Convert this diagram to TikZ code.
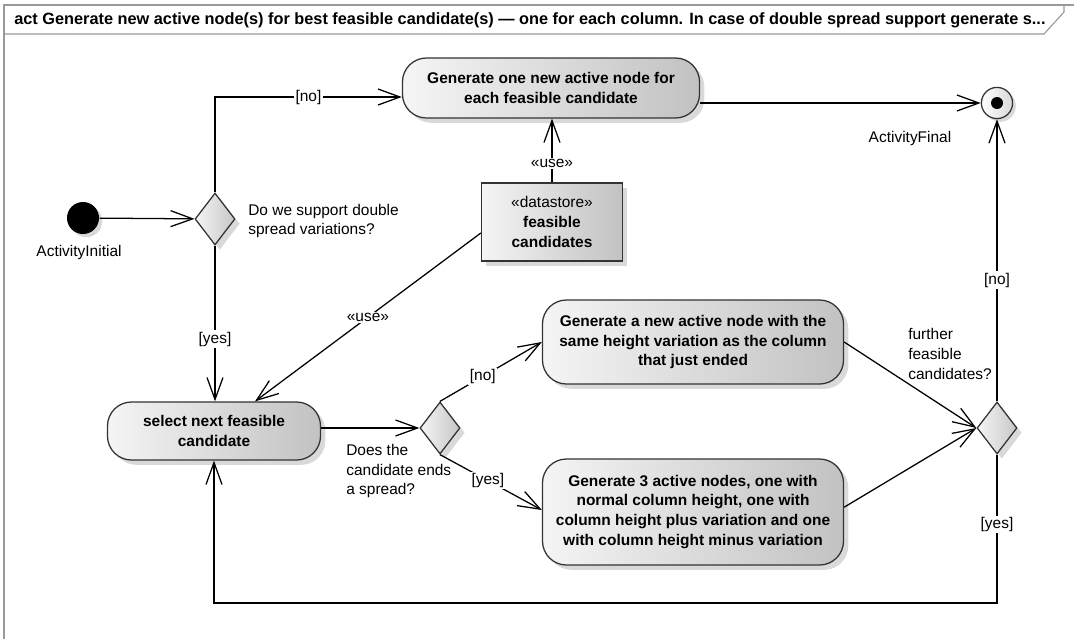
\documentclass[tikz,border=0pt]{standalone}
\usepackage{fontspec}
\setmainfont{Liberation Sans}
\usepackage{tikz}
\usetikzlibrary{arrows.meta,positioning,shapes.geometric,shadows}

\begin{document}
\begin{tikzpicture}[x=0.025cm, y=-0.025cm, line width=0.9pt,
  >={Straight Barb[length=5.5mm,width=4mm]},
  every node/.style={font=\fontsize{11}{14.2}\selectfont},
  action/.style={draw=black!80, rounded corners=6mm, align=center,
    font=\bfseries\fontsize{11}{14.2}\selectfont,
    left color=black!4, right color=black!24,
    drop shadow={shadow xshift=0.12cm, shadow yshift=-0.12cm, opacity=0.3}},
  decision/.style={diamond, draw=black!80, inner sep=0pt,
    minimum width=1cm, minimum height=1.3cm,
    left color=black!4, right color=black!22,
    drop shadow={shadow xshift=0.12cm, shadow yshift=-0.12cm, opacity=0.3}},
  guard/.style={fill=white, inner sep=1pt}]

\useasboundingbox (0,0) rectangle (1074,639);

% frame
\draw[black!40, line width=0.8pt] (4,639) -- (4,5) -- (1074,5);
\draw[black!40, line width=0.8pt] (4,34) -- (1044,34) -- (1064,12) -- (1064,5);
\node[anchor=west, font=\bfseries\fontsize{11.6}{13}\selectfont] (title) at (9,20)
  {act Generate new active node(s) for best feasible candidate(s) --- one for each column. In case of double spread support generate s...};

% nodes
\node[circle, fill=black, minimum size=0.8cm,
  drop shadow={shadow xshift=0.08cm, shadow yshift=-0.08cm, opacity=0.3}] (init) at (83,218) {};
\node (initlbl) at (79,252) {ActivityInitial};
\node[decision] (d1) at (215,219) {};
\node[anchor=west, align=left] (d1lbl) at (243,221) {Do we support double\\spread variations?};

\node[action, minimum width=7.425cm, minimum height=1.5cm] (gen1) at (551,88)
  {Generate one new active node for\\each feasible candidate};
\node[circle, draw=black!80, minimum size=0.78cm, inner sep=0pt,
  left color=white, right color=black!15,
  drop shadow={shadow xshift=0.08cm, shadow yshift=-0.08cm, opacity=0.3},
  path picture={\fill (path picture bounding box.center) circle (0.15cm);}] (fin) at (997,103) {};
\node (finlbl) at (910,138) {ActivityFinal};

\node[draw=black!80, minimum width=3.525cm, minimum height=1.95cm, align=center,
  left color=black!4, right color=black!24,
  drop shadow={shadow xshift=0.12cm, shadow yshift=-0.12cm, opacity=0.3}] (ds) at (552,222)
  {«datastore»\\\textbf{feasible}\\\textbf{candidates}};

\node[action, minimum width=5.325cm, minimum height=1.45cm] (sel) at (214,431)
  {select next feasible\\candidate};
\node[decision] (d2) at (440,428) {};
\node[anchor=west, align=left] (d2lbl) at (341,471) {Does the\\candidate ends\\a spread?};

\node[action, minimum width=7.525cm, minimum height=2.1cm] (gen2) at (693,342)
  {Generate a new active node with the\\same height variation as the column\\that just ended};
\node[action, minimum width=7.525cm, minimum height=2.65cm] (gen3) at (693,512)
  {Generate 3 active nodes, one with\\normal column height, one with\\column height plus variation and one\\with column height minus variation};

\node[decision] (d3) at (997,428) {};
\node[anchor=west, align=left] (d3lbl) at (903,354) {further\\feasible\\candidates?};
\coordinate (loop) at (0,603);

% edges
\draw[->] (init) to (d1);
\draw[->] (d1.north) |- node[guard, pos=0.75]{[no]} ([yshift=-0.225cm]gen1.west);
\draw[->] (gen1.east |- fin.west) to (fin.west);
\draw[->] (ds.north) to node[guard, pos=0.3]{«use»} (gen1.south -| ds.north);
\draw[->] ([yshift=-0.275cm]ds.west) to node[guard]{«use»} ([xshift=1.025cm]sel.north);
\draw[->] (d1.south) to node[guard, pos=0.6]{[yes]} (sel.north -| d1.south);
\draw[->] (sel.east |- d2.west) to (d2.west);
\draw[->] (d2.north) to node[guard, pos=0.42]{[no]} (gen2.west);
\draw[->] (d2.south) to node[guard, pos=0.47]{[yes]} ([yshift=0.05cm]gen3.west);
\draw[->] (gen2.east) to (d3.west);
\draw[->] ([yshift=0.12cm]gen3.east) to (d3.west);
\draw[->] (d3.north) to node[guard, pos=0.43]{[no]} (fin.south);
\draw[->] (d3.south) -- node[guard, pos=0.47]{[yes]} (d3.south |- loop) -| (sel.south);
\end{tikzpicture}
\end{document}
